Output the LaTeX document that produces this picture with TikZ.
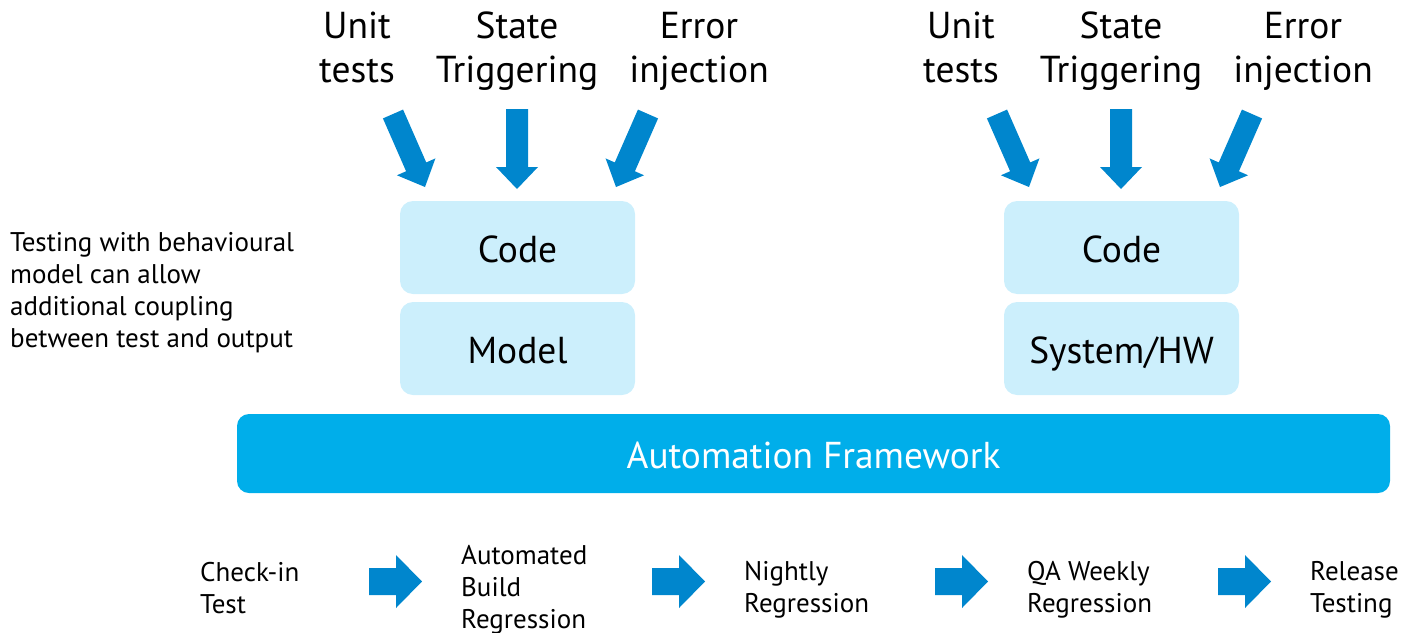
\documentclass[tikz,border=0pt]{standalone}
\usepackage{fontspec}
\setmainfont{PT Sans}
\usetikzlibrary{calc}
\definecolor{arrowblue}{RGB}{0,134,205}
\definecolor{boxfill}{RGB}{204,239,252}
\definecolor{barfill}{RGB}{0,174,234}

% block arrow: #1 tail, #2 tip, #3 half shaft width, #4 half head width, #5 head length
\newcommand\fatarrow[5]{%
  \coordinate (ah) at ($(#2)!#5!(#1)$);
  \fill[arrowblue] ($(#1)!#3!90:(#2)$) -- ($(ah)!#3!-90:(#1)$) -- ($(ah)!#4!-90:(#1)$)
    -- (#2) -- ($(ah)!#4!90:(#1)$) -- ($(ah)!#3!90:(#1)$) -- ($(#1)!#3!-90:(#2)$) -- cycle;}

\begin{document}
\begin{tikzpicture}[x=1pt,y=-1pt,
  toplabel/.style={align=center,anchor=north,font=\fontsize{37.5}{44}\selectfont,inner sep=0pt},
  layerbox/.style={fill=boxfill,rounded corners=13pt,minimum width=235pt,minimum height=93pt,
    inner sep=0pt,text height=30pt,text depth=0pt,font=\fontsize{37.5}{44}\selectfont},
  framebar/.style={fill=barfill,rounded corners=12pt,minimum width=1153pt,minimum height=79pt,
    inner sep=0pt,text height=30pt,text depth=0pt,text=white,font=\fontsize{37.4}{44}\selectfont},
  note/.style={align=left,anchor=west,inner sep=0pt,font=\fontsize{27}{32}\selectfont},
  stage/.style={align=left,anchor=west,inner sep=0pt,font=\fontsize{27}{32}\selectfont}]
\useasboundingbox (0,0) rectangle (1402,632);

% stacked layers
\node[layerbox] (codeL) at (517.5,247.5) {Code};
\node[layerbox] (modelL) at (517.5,348.5) {Model};
\node[layerbox] (codeR) at (1121.5,247.5) {Code};
\node[layerbox] (sysR) at (1121.5,348.5) {System/HW};
\node[framebar] (frame) at (813.5,453.5) {Automation Framework};

% inputs, left group
\node[toplabel] (unitL) at (357,12) {Unit\\tests};
\node[toplabel] (stateL) at (517,12) {State\\Triggering};
\node[toplabel] (errL) at (699,12) {Error\\injection};
% inputs, right group
\node[toplabel] (unitR) at (961,12) {Unit\\tests};
\node[toplabel] (stateR) at (1121,12) {State\\Triggering};
\node[toplabel] (errR) at (1303,12) {Error\\injection};

% arrow end points
\coordinate (uLt) at (393,114); \coordinate (uLh) at (425,187);
\coordinate (sLt) at (517,109); \coordinate (sLh) at (517,189);
\coordinate (eLt) at (648,114); \coordinate (eLh) at (616,187);
\coordinate (uRt) at (997,114); \coordinate (uRh) at (1029,187);
\coordinate (sRt) at (1121,109); \coordinate (sRh) at (1121,189);
\coordinate (eRt) at (1252,114); \coordinate (eRh) at (1220,187);
\fatarrow{uLt}{uLh}{11pt}{21pt}{22pt}
\fatarrow{sLt}{sLh}{11pt}{21pt}{22pt}
\fatarrow{eLt}{eLh}{11pt}{21pt}{22pt}
\fatarrow{uRt}{uRh}{11pt}{21pt}{22pt}
\fatarrow{sRt}{sRh}{11pt}{21pt}{22pt}
\fatarrow{eRt}{eRh}{11pt}{21pt}{22pt}

% side note
\node[note] (note) at (10,293) {Testing with behavioural\\model can allow\\additional coupling\\between test and output};

% test stages
\node[stage] (s1) at (200,588) {Check-in\\Test};
\node[stage] (s2) at (461,590) {Automated\\Build\\Regression};
\node[stage] (s3) at (744,590) {Nightly\\Regression};
\node[stage] (s4) at (1027,590) {QA Weekly\\Regression};
\node[stage] (s5) at (1310,590) {Release\\Testing};

\coordinate (a1t) at (369,581.5); \coordinate (a1h) at (422,581.5);
\coordinate (a2t) at (652,581.5); \coordinate (a2h) at (705,581.5);
\coordinate (a3t) at (935,581.5); \coordinate (a3h) at (988,581.5);
\coordinate (a4t) at (1218,581.5); \coordinate (a4h) at (1271,581.5);
\fatarrow{a1t}{a1h}{13.5pt}{26.5pt}{26pt}
\fatarrow{a2t}{a2h}{13.5pt}{26.5pt}{26pt}
\fatarrow{a3t}{a3h}{13.5pt}{26.5pt}{26pt}
\fatarrow{a4t}{a4h}{13.5pt}{26.5pt}{26pt}
\end{tikzpicture}
\end{document}
